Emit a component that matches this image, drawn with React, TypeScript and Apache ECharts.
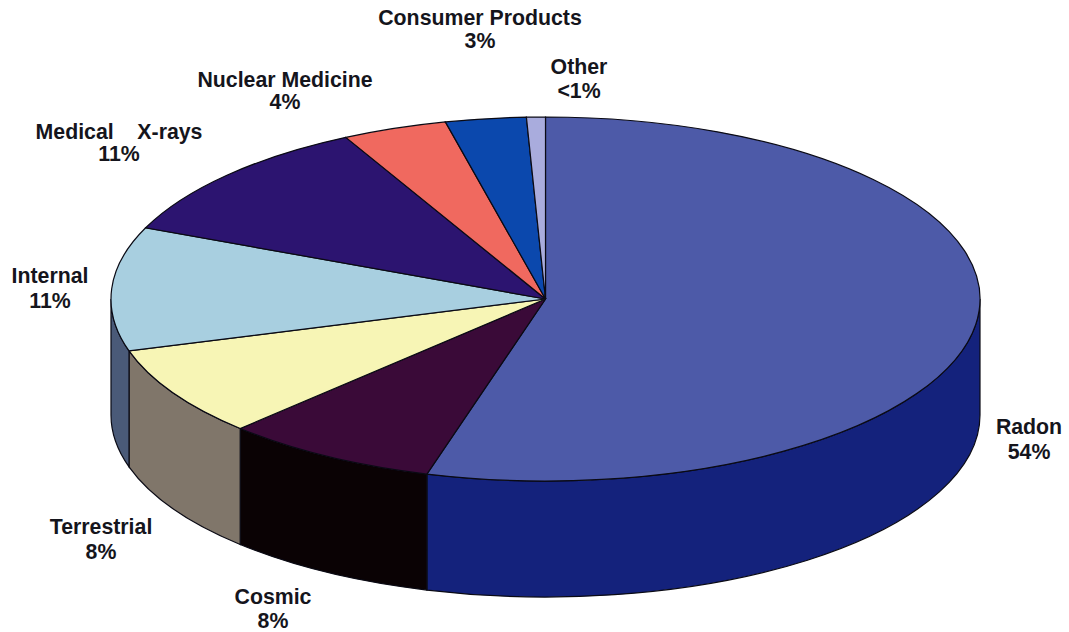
import React, { useEffect, useRef } from "react";
import * as echarts from "echarts";

const categories = ["Radon", "Cosmic", "Terrestrial", "Internal", "Medical    X-rays", "Nuclear Medicine", "Consumer Products", "Other"];
const values = [54.4, 8, 8, 11, 11, 3.9, 3, 0.7];
const percentLabels = ["54%", "8%", "8%", "11%", "11%", "4%", "3%", "<1%"];
const topColors = ["#4d5aa8", "#3a0a38", "#f7f5b5", "#a8cfe0", "#2c1470", "#f0695f", "#0b48ad", "#a9acdd"];
const sideColors = ["#14227c", "#0a0204", "#80766a", "#4a5a78", "#1a0d3c", "#78342f", "#052456", "#54566e"];
const labelCenters: number[][] = [
  [1029, 427, 452], [273, 597, 621], [101, 527, 552], [50, 276, 301],
  [119, 132, 154], [285, 80, 102], [480, 18, 41], [579, 67, 91],
];

const CX = 545.5, CY = 299, RX = 434.5, RY = 182, DEPTH = 116;
const FONT = '"Liberation Sans", sans-serif';
const total = values.reduce((a, b) => a + b, 0);

function pt(t: number, dy = 0) {
  return [CX + RX * Math.sin(t), CY - RY * Math.cos(t) + dy];
}
function arc(t0: number, t1: number, dy: number, sweep: number) {
  const end = pt(t1, dy);
  const large = Math.abs(t1 - t0) > Math.PI ? 1 : 0;
  return `A${RX} ${RY} 0 ${large} ${sweep} ${end[0]} ${end[1]}`;
}

function renderSlice(_p: any, api: any) {
  const idx = api.value(1) as number;
  let before = 0;
  for (let i = 0; i < idx; i++) before += values[i];
  const t0 = (before / total) * Math.PI * 2;
  const t1 = ((before + (api.value(0) as number)) / total) * Math.PI * 2;
  const stroke = { stroke: "#0a0a14", lineWidth: 1.2 };
  const children: any[] = [];
  const s0 = Math.max(t0, Math.PI / 2);
  const s1 = Math.min(t1, (Math.PI * 3) / 2);
  if (s1 > s0) {
    const a = pt(s0), b = pt(s1, DEPTH);
    children.push({
      type: "path",
      shape: {
        pathData: `M${a[0]} ${a[1]}${arc(s0, s1, 0, 1)}L${b[0]} ${b[1]}${arc(s1, s0, DEPTH, 0)}Z`,
      },
      style: { fill: sideColors[idx], ...stroke },
    });
  }
  const a = pt(t0);
  children.push({
    type: "path",
    shape: { pathData: `M${CX} ${CY}L${a[0]} ${a[1]}${arc(t0, t1, 0, 1)}Z` },
    style: { fill: topColors[idx], ...stroke },
  });
  const [lx, ly1, ly2] = labelCenters[idx];
  const textStyle = { fontFamily: FONT, fontWeight: "bold", fontSize: 21.3, fill: "#15151c", align: "center", verticalAlign: "middle" };
  children.push({ type: "text", x: lx, y: ly1, style: { text: categories[idx], ...textStyle } });
  children.push({ type: "text", x: lx, y: ly2, style: { text: percentLabels[idx], ...textStyle } });
  return { type: "group", children };
}

export default function App() {
  const ref = useRef<HTMLDivElement>(null);
  useEffect(() => {
    const chart = echarts.init(ref.current!, undefined, { renderer: "svg" });
    chart.setOption({
      animation: false,
      backgroundColor: "#ffffff",
      series: [
        {
          type: "custom",
          coordinateSystem: "none",
          renderItem: renderSlice,
          encode: { value: 0 },
          data: values.map((v, i) => [v, i, categories[i]]),
        },
      ],
    });
    return () => chart.dispose();
  }, []);
  return <div ref={ref} style={{ position: "absolute", left: 0, top: 0, width: 1069, height: 632 }} />;
}
